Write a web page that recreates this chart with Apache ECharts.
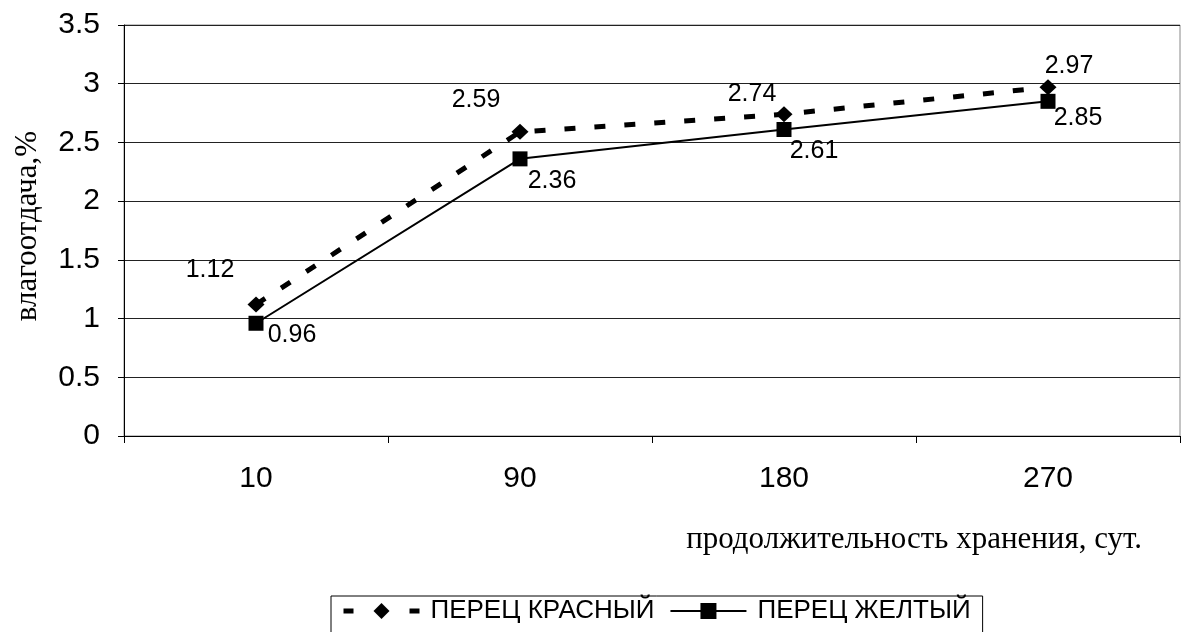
<!DOCTYPE html>
<html>
<head>
<meta charset="utf-8">
<script src="https://cdn.jsdelivr.net/npm/echarts@6/dist/echarts.min.js"></script>
<style>html,body{margin:0;padding:0;background:#fff}#c{width:1183px;height:632px}</style>
</head>
<body>
<div id="c"></div>
<script>
const categories = ['10', '90', '180', '270'];
const redValues = [1.12, 2.59, 2.74, 2.97];
const yellowValues = [0.96, 2.36, 2.61, 2.85];
const seriesNames = ['ПЕРЕЦ КРАСНЫЙ', 'ПЕРЕЦ ЖЕЛТЫЙ'];
const yTitle = 'влагоотдача,%';
const xTitle = 'продолжительность хранения, сут.';

const redOffsets = [[-46, -34], [-44, -32], [-32, -20], [21, -21]];
const yellowOffsets = [[36, 12], [32, 22], [30, 22], [30, 17]];

function withLabels(vals, offs) {
  return vals.map((v, i) => ({ value: v, label: { offset: offs[i] } }));
}

const sans = 'Liberation Sans, Arial, sans-serif';
const serif = 'Liberation Serif, Times New Roman, serif';
const chart = echarts.init(document.getElementById('c'), null, { renderer: 'canvas' });
const dataLabel = { show: true, position: 'inside', fontFamily: sans, fontSize: 25, color: '#000' };
chart.setOption({
  animation: false,
  backgroundColor: '#fff',
  grid: { left: 124, top: 25, right: 3, bottom: 196, show: true, borderColor: '#888', borderWidth: 1 },
  xAxis: {
    type: 'category',
    data: categories,
    boundaryGap: true,
    axisLine: { lineStyle: { color: '#000', width: 1 } },
    axisTick: { show: true, length: 7, lineStyle: { color: '#000' } },
    axisLabel: { margin: 28, fontFamily: sans, fontSize: 30, color: '#000' },
    splitLine: { show: false }
  },
  yAxis: {
    type: 'value',
    min: 0, max: 3.5, interval: 0.5,
    axisLine: { show: true, lineStyle: { color: '#000', width: 1 } },
    axisTick: { show: true, length: 6, inside: false, lineStyle: { color: '#000' } },
    axisLabel: { margin: 24, fontFamily: sans, fontSize: 30, color: '#000' },
    splitLine: { show: true, lineStyle: { color: '#222', width: 1 } }
  },
  legend: {
    left: 331, top: 596,
    padding: [2, 12, 12, 10],
    borderColor: '#000', borderWidth: 1,
    itemWidth: 76, itemHeight: 20, itemGap: 15,
    textStyle: { fontFamily: sans, fontSize: 26, color: '#000', padding: [0, 0, 0, 6] },
    data: [
      { name: seriesNames[0], lineStyle: { type: [10, 56], width: 5 } },
      { name: seriesNames[1] }
    ]
  },
  graphic: [
    {
      type: 'text', x: 1142, y: 540,
      style: { text: xTitle, fontFamily: serif, fontSize: 31, fill: '#000', align: 'right', verticalAlign: 'middle' }
    },
    {
      type: 'text', x: 28, y: 226, rotation: Math.PI / 2,
      style: { text: yTitle, fontFamily: serif, fontSize: 31, fill: '#000', align: 'center', verticalAlign: 'middle' }
    }
  ],
  series: [
    {
      name: seriesNames[0], type: 'line',
      data: withLabels(redValues, redOffsets),
      symbol: 'diamond', symbolSize: [17, 16],
      lineStyle: { color: '#000', width: 5, type: [11, 19] },
      itemStyle: { color: '#000' },
      label: dataLabel,
      z: 3
    },
    {
      name: seriesNames[1], type: 'line',
      data: withLabels(yellowValues, yellowOffsets),
      symbol: 'rect', symbolSize: 15,
      lineStyle: { color: '#000', width: 2 },
      itemStyle: { color: '#000' },
      label: dataLabel,
      z: 4
    }
  ]
});
</script>
</body>
</html>
